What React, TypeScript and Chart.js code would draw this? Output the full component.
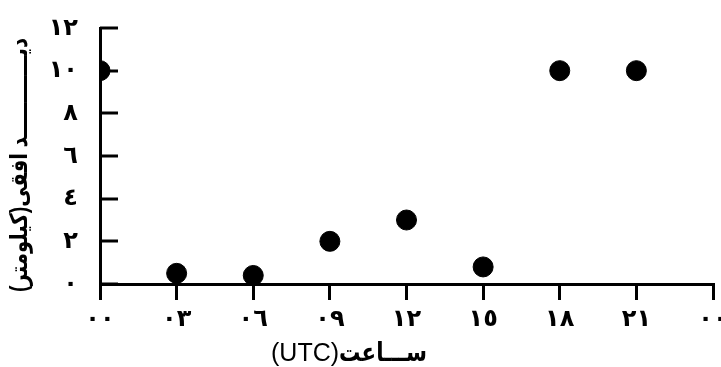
import React, { useEffect, useRef } from "react";
import { Chart, registerables } from "chart.js";

Chart.register(...registerables);

// Hours (UTC) and horizontal visibility (km)
const hours = [0, 3, 6, 9, 12, 15, 18, 21];
const visibility = [10, 0.5, 0.4, 2, 3, 0.8, 10, 10];

const xTickLabels = ["٠٠", "٠٣", "٠٦", "٠٩", "١٢", "١٥", "١٨", "٢١", "٠٠"];
const yTickLabels = ["٠", "٢", "٤", "٦", "٨", "١٠", "١٢"];

const xTitleArabic = "ســـاعت";
const xTitleLatin = "(UTC)";
const yTitle = "دیــــــــــــد افقی(کیلومتر)";

const ARABIC_FONT = "'Liberation Sans', 'DejaVu Sans', sans-serif";

const inwardTicks = {
  id: "inwardTicks",
  afterDatasetsDraw(chart: any) {
    const y = chart.scales.y;
    const area = chart.chartArea;
    const ctx = chart.ctx;
    ctx.save();
    ctx.strokeStyle = "#000";
    ctx.lineWidth = 3;
    y.ticks.forEach((t: any) => {
      const py = Math.round(y.getPixelForValue(t.value));
      ctx.beginPath();
      ctx.moveTo(area.left, py);
      ctx.lineTo(area.left + 18, py);
      ctx.stroke();
    });
    ctx.restore();
  },
};

const titles = {
  id: "titles",
  afterDraw(chart: any) {
    const ctx = chart.ctx;
    ctx.save();
    ctx.fillStyle = "#000";
    // X title
    const right = 427;
    const base = 361;
    const sx = 0.82;
    ctx.textBaseline = "alphabetic";
    ctx.save();
    ctx.translate(right, base);
    ctx.scale(sx, 1);
    ctx.textAlign = "right";
    ctx.direction = "rtl";
    ctx.font = "bold 26px " + ARABIC_FONT;
    ctx.fillText(xTitleArabic, 0, 0);
    const w = ctx.measureText(xTitleArabic).width * sx;
    ctx.restore();
    ctx.direction = "ltr";
    ctx.textAlign = "right";
    ctx.font = "25px 'Liberation Sans', Arial, sans-serif";
    ctx.fillText(xTitleLatin, right - w, base);
    // Y title
    ctx.translate(27, 165);
    ctx.rotate(-Math.PI / 2);
    ctx.scale(0.82, 1);
    ctx.direction = "rtl";
    ctx.textAlign = "center";
    ctx.font = "bold 24px " + ARABIC_FONT;
    ctx.fillText(yTitle, 0, 0);
    ctx.restore();
  },
};

export default function App() {
  const ref = useRef<HTMLCanvasElement>(null);

  useEffect(() => {
    if (!ref.current) return;
    const chart = new Chart(ref.current, {
      type: "scatter",
      data: {
        datasets: [
          {
            data: hours.map((h, i) => ({ x: h, y: visibility[i] })),
            backgroundColor: "#000",
            borderColor: "#000",
            pointRadius: 10,
            pointHoverRadius: 10,
            clip: 0,
          } as any,
        ],
      },
      options: {
        animation: false,
        responsive: false,
        events: [],
        layout: { autoPadding: false, padding: { top: 28, right: 8, left: 0, bottom: 0 } },
        plugins: { legend: { display: false }, tooltip: { enabled: false } },
        scales: {
          x: {
            type: "linear",
            min: 0,
            max: 24,
            ticks: {
              stepSize: 3,
              autoSkip: false,
              maxRotation: 0,
              padding: 5,
              color: "#000",
              font: { family: ARABIC_FONT, size: 24, weight: "bold" },
              callback: (_v: any, i: number) => xTickLabels[i],
            },
            grid: {
              drawOnChartArea: false,
              drawTicks: true,
              tickLength: 16,
              lineWidth: 3,
              color: "#000",
            },
            border: { display: true, width: 3, color: "#000" },
            afterFit: (s: any) => {
              s.height = 83;
              s.paddingLeft = 0;
              s.paddingRight = 0;
            },
          },
          y: {
            type: "linear",
            min: 0,
            max: 12,
            ticks: {
              stepSize: 2,
              autoSkip: false,
              padding: 22,
              color: "#000",
              font: { family: ARABIC_FONT, size: 24, weight: "bold" },
              callback: (_v: any, i: number) => yTickLabels[i],
            },
            grid: { drawOnChartArea: false, drawTicks: false, lineWidth: 3, color: "#000" },
            border: { display: true, width: 3, color: "#000" },
            afterFit: (s: any) => {
              s.width = 100;
              s.paddingTop = 0;
              s.paddingBottom = 0;
            },
          },
        },
      } as any,
      plugins: [inwardTicks, titles],
    });
    return () => chart.destroy();
  }, []);

  return (
    <div style={{ position: "fixed", left: 0, top: 0, width: 721, height: 367, background: "#fff" }}>
      <canvas ref={ref} width={721} height={367} />
    </div>
  );
}
